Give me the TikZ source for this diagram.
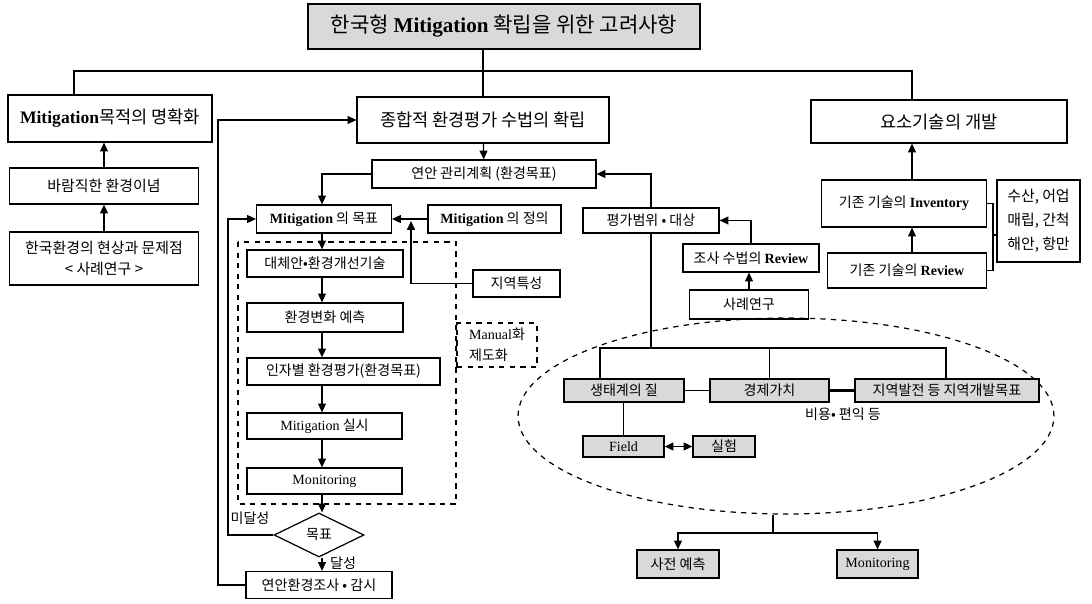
\documentclass[tikz,border=0pt]{standalone}
\usepackage{fontspec}
\setmainfont{Liberation Serif}
\newfontfamily\kr{Noto Sans CJK KR}
\usetikzlibrary{arrows.meta,shapes.geometric,positioning}
\newcommand{\eng}[1]{{\rmfamily\bfseries #1}}
\newcommand{\engr}[1]{{\rmfamily #1}}
\tikzset{
	box/.style={draw, rectangle, line width=0.7pt, inner sep=1pt, align=center, font=\kr\fontsize{8}{10}\selectfont},
	bigbox/.style={box, font=\kr\fontsize{10}{12}\selectfont},
	shadebox/.style={box, fill=black!15},
	lbl/.style={inner sep=1pt, font=\kr\fontsize{8}{10}\selectfont},
	>={Triangle[length=5pt,width=4.5pt]}
}
\begin{document}
\begin{tikzpicture}[x=0.02cm, y=-0.02cm, line width=0.7pt]
			\useasboundingbox (0,0) rectangle (1092,604);
			
			\node	(title) at (504,26.5) [shadebox, minimum width=7.84cm, minimum height=0.9cm, font=\kr\fontsize{12}{14}\selectfont] {한국형 \eng{Mitigation} 확립을 위한 고려사항};
			
			\node	(goal) at (110,118.5) [bigbox, minimum width=4.08cm, minimum height=0.94cm] {\eng{Mitigation}목적의 명확화};
			\node	(ideal) at (104,186) [box, minimum width=3.78cm, minimum height=0.72cm, font=\kr\fontsize{8.5}{11}\selectfont] {바람직한 환경이념};
			\node	(status) at (104,258.5) [box, minimum width=3.78cm, minimum height=1.06cm, font=\kr\fontsize{8.5}{12}\selectfont] {한국환경의 현상과 문제점\\< 사례연구 >};
			
			\node	(method) at (483,120) [bigbox, minimum width=5.04cm, minimum height=0.92cm] {종합적 환경평가 수법의 확립};
			\node	(tech) at (939,121.5) [bigbox, minimum width=5.12cm, minimum height=0.86cm] {요소기술의 개발};
			\node	(plan) at (484,174) [box, minimum width=4.48cm, minimum height=0.56cm] {연안 관리계획 (환경목표)};
			
			\node	(target) at (324,219) [box, minimum width=2.7cm, minimum height=0.56cm] {\eng{Mitigation} 의 목표};
			\node	(defn) at (494.5,219) [box, minimum width=2.66cm, minimum height=0.56cm] {\eng{Mitigation} 의 정의};
			\node	(region) at (516.5,283.5) [box, minimum width=1.74cm, minimum height=0.54cm] {지역특성};
			\node	(manual) at (497,345) [box, dashed, minimum width=1.6cm, minimum height=0.88cm, align=left, font=\kr\fontsize{8}{12}\selectfont] {\engr{Manual}화\\제도화};
			
			\node	(alt) at (325,263.5) [box, minimum width=3.12cm, minimum height=0.54cm] {대체안•환경개선기술};
			\node	(pred) at (325,317.5) [box, minimum width=3.12cm, minimum height=0.58cm] {환경변화 예측};
			\node	(eval) at (343.5,371.5) [box, minimum width=3.86cm, minimum height=0.54cm] {인자별 환경평가(환경목표)};
			\node	(impl) at (324.5,426) [box, minimum width=3.1cm, minimum height=0.52cm] {\engr{Mitigation} 실시};
			\node	(moni) at (324.5,481) [box, minimum width=3.1cm, minimum height=0.52cm] {\engr{Monitoring}};
			\node	(dec) at (319,535) [draw, diamond, aspect=2, inner sep=0pt, minimum width=1.8cm, minimum height=0.88cm, font=\kr\fontsize{8}{10}\selectfont] {목표};
			\node	(coast) at (319,585) [box, minimum width=2.92cm, minimum height=0.54cm] {연안환경조사 • 감시};
			\node	(miss) at (250,518) [lbl] {미달성};
			\node	(hit) at (343,563) [lbl] {달성};
			
			\node	(scope) at (651,220.5) [box, minimum width=2.72cm, minimum height=0.5cm] {평가범위 • 대상};
			\node	(review1) at (751,258) [box, minimum width=2.72cm, minimum height=0.56cm] {조사 수법의 \eng{Review}};
			\node	(case) at (749,304.5) [box, minimum width=2.38cm, minimum height=0.58cm] {사례연구};
			
			\node	(inv) at (904,203.5) [box, minimum width=3.3cm, minimum height=0.94cm] {기존 기술의 \eng{Inventory}};
			\node	(review2) at (907,270.5) [box, minimum width=3.18cm, minimum height=0.7cm] {기존 기술의 \eng{Review}};
			\node	(sector) at (1038.5,221) [box, minimum width=1.66cm, minimum height=1.64cm, align=left, font=\kr\fontsize{8.5}{13.6}\selectfont] {수산, 어업\\매립, 간척\\해안, 항만};
			
			\node	(area) at (786,416) [draw, dashed, ellipse, minimum width=10.72cm, minimum height=3.92cm] {};
			\node	(eco) at (624,390.5) [shadebox, minimum width=2.4cm, minimum height=0.46cm] {생태계의 질};
			\node	(econ) at (769.5,390.5) [shadebox, minimum width=2.38cm, minimum height=0.46cm] {경제가치};
			\node	(dev) at (947,390.5) [shadebox, minimum width=3.68cm, minimum height=0.46cm] {지역발전 등 지역개발목표};
			\node	(cost) at (843,414) [lbl] {비용• 편익 등};
			\node	(field) at (623.5,446.5) [shadebox, minimum width=1.62cm, minimum height=0.42cm] {\engr{Field}};
			\node	(exp) at (724,446.5) [shadebox, minimum width=1.24cm, minimum height=0.42cm] {실험};
			\node	(pre) at (678,564) [shadebox, minimum width=1.64cm, minimum height=0.56cm] {사전 예측};
			\node	(mon2) at (877.5,564) [shadebox, minimum width=1.62cm, minimum height=0.56cm] {\engr{Monitoring}};
			
			\coordinate (busL) at (74,71);
			\coordinate (busR) at (912,71);
			\coordinate (loopA) at (218,0);
			\coordinate (loopB) at (228,0);
			\coordinate (cx) at (322,0);
			\coordinate (jn) at (411,221);
			\coordinate (b1) at (600,348);
			\coordinate (b3) at (946,348);
			\coordinate (brk) at (993,235);
			\coordinate (split) at (773,533);
			
			\draw[dashed] (238,242) rectangle (456,504);
			
			\draw (busL |- goal.north) -- (busL) -- (busR) -- (busR |- tech.north);
			\draw (title.south -| method.north) -- (method.north);
			\draw 
			(ideal.north) edge[->] (ideal.north |- goal.south)
			(status) edge[->] (ideal)
			(method) edge[->] (plan)
			(case.north) edge[->] (case.north |- review1.south)
			(defn) edge[->] (target)
			(eco) edge (econ)
			(field) edge[<->] (exp)
			(field.north) edge (field.north |- eco.south)
			(econ.north) edge (econ.north |- b1)
			(review2.north -| busR) edge[->] (inv.south -| busR)
			(inv.north -| busR) edge[->] (tech.south -| busR)
			;
			\draw[line width=1.4pt] (econ) -- (dev);
			
			\draw[->] (plan.west) -| (target.north -| cx);
			\draw[->] (scope.north) |- (plan.east);
			\draw[->] (review1.north) |- (scope.east);
			\draw[->] (region.west) -| (jn);
			\draw[->] (coast.west) -| (loopA |- method.west) -- (method.west);
			\draw[->] (dec.west) -| (loopB |- target.west) -- (target.west);
			
			\draw 
			(target.south -| cx) edge[->] (alt.north -| cx)
			(alt.south -| cx) edge[->] (pred.north -| cx)
			(pred.south -| cx) edge[->] (eval.north -| cx)
			(eval.south -| cx) edge[->] (impl.north -| cx)
			(impl.south -| cx) edge[->] (moni.north -| cx)
			(moni.south -| cx) edge[->] (dec.north -| cx)
			(dec.south -| cx) edge[->] (coast.north -| cx)
			;
			
			\draw (scope.south) -- (scope.south |- b1);
			\draw (b1 |- eco.north) -- (b1) -- (b3) -- (b3 |- dev.north);
			
			\draw (inv.east) -| (brk) |- (review2.east);
			\draw (brk) -- (brk -| sector.west);
			
			\draw (split |- area.south) -- (split);
			\draw[->] (split) -| (pre.north);
			\draw[->] (split) -| (mon2.north);
		\end{tikzpicture}
\end{document}
